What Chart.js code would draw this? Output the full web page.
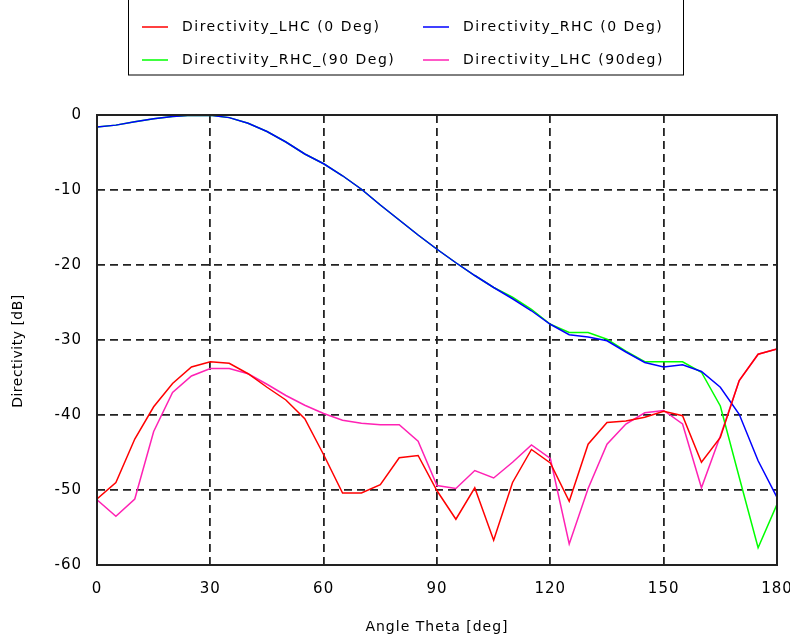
<!DOCTYPE html>
<html>
<head>
<meta charset="utf-8">
<script src="https://cdn.jsdelivr.net/npm/chart.js@4.4.0/dist/chart.umd.min.js"></script>
<style>
  html, body { margin: 0; padding: 0; background: #fff; }
  canvas { display: block; }
</style>
</head>
<body>
<canvas id="c" width="790" height="642"></canvas>
<script>
// angle theta, 5 deg steps
var THETA = [0, 5, 10, 15, 20, 25, 30, 35, 40, 45, 50, 55, 60, 65, 70, 75, 80, 85, 90,
             95, 100, 105, 110, 115, 120, 125, 130, 135, 140, 145, 150, 155, 160, 165, 170, 175, 180];

var LHC_0 = [-51.2, -49.0, -43.2, -38.9, -35.8, -33.6, -32.9, -33.1, -34.5, -36.3, -38.0, -40.5, -45.3,
             -50.4, -50.4, -49.3, -45.7, -45.4, -50.1, -53.9, -49.7, -56.7, -49.0, -44.6, -46.4,
             -51.5, -43.9, -41.0, -40.8, -40.3, -39.5, -40.1, -46.3, -43.0, -35.4, -31.9, -31.2];

var RHC_0 = [-1.6, -1.35, -0.9, -0.5, -0.2, -0.05, -0.05, -0.35, -1.1, -2.2, -3.6, -5.2, -6.5,
             -8.1, -9.9, -12.0, -14.0, -16.0, -17.9, -19.7, -21.4, -23.0, -24.5, -26.1, -27.9,
             -29.3, -29.6, -30.1, -31.6, -33.0, -33.6, -33.3, -34.2, -36.3, -39.9, -46.1, -51.0];

var RHC_90 = [-1.6, -1.35, -0.9, -0.5, -0.2, -0.05, -0.05, -0.35, -1.1, -2.2, -3.6, -5.2, -6.5,
              -8.1, -9.9, -12.0, -14.0, -16.0, -17.9, -19.7, -21.4, -23.0, -24.3, -25.9, -27.9,
              -29.0, -29.0, -29.9, -31.5, -32.9, -32.9, -32.9, -34.3, -38.8, -48.3, -57.7, -51.9];

var LHC_90 = [-51.3, -53.5, -51.2, -42.2, -37.0, -34.8, -33.8, -33.8, -34.5, -35.9, -37.4, -38.7, -39.8,
              -40.7, -41.1, -41.3, -41.3, -43.5, -49.4, -49.8, -47.4, -48.4, -46.3, -44.0, -45.8,
              -57.2, -49.8, -43.9, -41.2, -39.7, -39.4, -41.2, -49.7, -42.8, -35.4, -31.9, -31.2];

var LABELS = ['Directivity_LHC (0 Deg)', 'Directivity_RHC (0 Deg)', 'Directivity_RHC_(90 Deg)', 'Directivity_LHC (90deg)'];
var COLORS = ['#ff0000', '#0000ff', '#00ff00', '#ff22b4'];

var X_TICKS = [0, 30, 60, 90, 120, 150, 180];
var Y_TICKS = [0, -10, -20, -30, -40, -50, -60];

var FONT = 'DejaVu Sans';

function pts(arr) {
  return THETA.map(function (t, i) { return { x: t, y: arr[i] }; });
}

// canvas state is reset when Chart.js sizes the canvas, so set spacing every pass
var spacing = {
  id: 'spacing',
  beforeLayout: function (chart) { chart.ctx.letterSpacing = '1px'; },
  beforeDraw: function (chart) { chart.ctx.letterSpacing = '1px'; }
};

// boxed two-column legend at the top, plus frame and y title
var decor = {
  id: 'decor',
  afterDraw: function (chart) {
    var c = chart.ctx, a = chart.chartArea;
    c.save();
    // frame round the plot
    c.strokeStyle = '#222';
    c.lineWidth = 2;
    c.setLineDash([]);
    c.strokeRect(a.left, a.top, a.right - a.left, a.bottom - a.top);

    // legend box
    c.lineWidth = 1;
    c.strokeStyle = '#000';
    c.strokeRect(128.5, -2, 555, 77);
    var cols = [142, 423], rows = [27, 60];
    c.font = '14px ' + FONT;
    c.letterSpacing = '1.5px';
    c.textBaseline = 'middle';
    c.textAlign = 'left';
    chart.data.datasets.forEach(function (ds, i) {
      var x = cols[i % 2], y = rows[Math.floor(i / 2)];
      c.strokeStyle = ds.borderColor;
      c.lineWidth = 1.5;
      c.beginPath(); c.moveTo(x, y); c.lineTo(x + 26, y); c.stroke();
      c.fillStyle = '#000';
      c.fillText(ds.label, x + 40, y);
    });

    // y axis title
    c.letterSpacing = '0.5px';
    c.translate(18, 351);
    c.rotate(-Math.PI / 2);
    c.textAlign = 'center';
    c.fillText('Directivity [dB]', 0, 0);
    c.restore();
  }
};

var series = [LHC_0, RHC_0, RHC_90, LHC_90];

new Chart(document.getElementById('c'), {
  type: 'line',
  data: {
    datasets: series.map(function (s, i) {
      return {
        label: LABELS[i], data: pts(s),
        borderColor: COLORS[i], backgroundColor: COLORS[i],
        borderWidth: 1.5, pointRadius: 0, tension: 0, fill: false
      };
    })
  },
  options: {
    responsive: false, animation: false,
    layout: { padding: { top: 115, right: 13, left: 0, bottom: 0 } },
    font: { family: FONT, size: 14 },
    plugins: { legend: { display: false }, tooltip: { enabled: false } },
    scales: {
      x: {
        type: 'linear', min: 0, max: 180,
        afterBuildTicks: function (s) { s.ticks = X_TICKS.map(function (v) { return { value: v }; }); },
        afterFit: function (s) { s.height = 77; s.paddingLeft = 0; s.paddingRight = 0; },
        ticks: { color: '#000', padding: 15, maxRotation: 0, font: { family: FONT, size: 15 } },
        grid: { color: '#222', lineWidth: 1.8, drawTicks: false, borderDash: [8, 5] },
        border: { display: false, dash: [8, 5] },
        title: { display: true, text: 'Angle Theta [deg]', color: '#000',
                 font: { family: FONT, size: 14 }, padding: { top: 0, bottom: 6 } }
      },
      y: {
        type: 'linear', min: -60, max: 0,
        afterBuildTicks: function (s) { s.ticks = Y_TICKS.map(function (v) { return { value: v }; }); },
        afterFit: function (s) { s.width = 97; s.paddingTop = 0; s.paddingBottom = 0; },
        ticks: { color: '#000', padding: 15, font: { family: FONT, size: 15 } },
        grid: { color: '#222', lineWidth: 1.8, drawTicks: false, borderDash: [8, 5] },
        border: { display: false, dash: [8, 5] }
      }
    }
  },
  plugins: [spacing, decor]
});
</script>
</body>
</html>
